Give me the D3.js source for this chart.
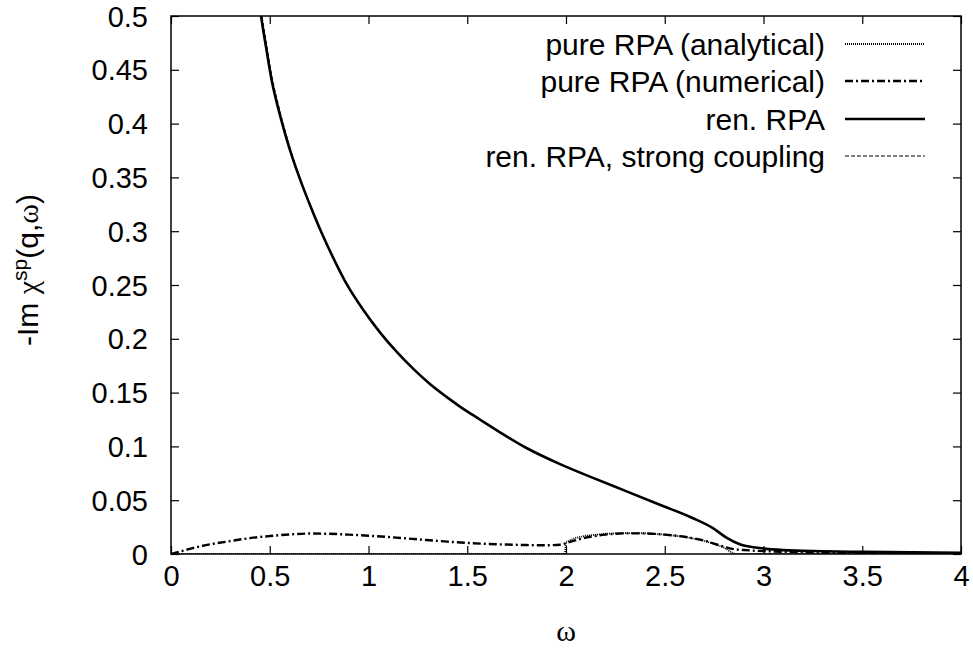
<!DOCTYPE html>
<html>
<head>
<meta charset="utf-8">
<script src="https://cdn.jsdelivr.net/npm/d3@7"></script>
<style>
  body { margin: 0; background: #fff; }
  svg { display: block; }
  text { font-family: "Liberation Sans", Arial, sans-serif; fill: #000; }
</style>
</head>
<body>
<svg id="chart" width="973" height="648"></svg>
<script>
// ---- data ----
const xTicks = [0, 0.5, 1, 1.5, 2, 2.5, 3, 3.5, 4];
const xTickLabels = ["0", "0.5", "1", "1.5", "2", "2.5", "3", "3.5", "4"];
const yTicks = [0, 0.05, 0.1, 0.15, 0.2, 0.25, 0.3, 0.35, 0.4, 0.45, 0.5];
const yTickLabels = ["0", "0.05", "0.1", "0.15", "0.2", "0.25", "0.3", "0.35", "0.4", "0.45", "0.5"];

const seriesNames = ["pure RPA (analytical)", "pure RPA (numerical)", "ren. RPA", "ren. RPA, strong coupling"];

const anaOmega = [0, 1.995, 2.0, 2.05, 2.1, 2.2, 2.3, 2.4, 2.5, 2.6, 2.7, 2.75, 2.8, 2.84, 2.86, 4];
const anaValue = [0, 0, 0.011, 0.015, 0.017, 0.0188, 0.0195, 0.0193, 0.018, 0.016, 0.0122, 0.0095, 0.006, 0.0012, 0, 0];

const numOmega = [0, 0.05, 0.1, 0.2, 0.3, 0.4, 0.5, 0.6, 0.7, 0.8, 0.9, 1.0, 1.2, 1.4, 1.5, 1.6, 1.7, 1.8, 1.9, 1.97, 2.02, 2.1, 2.2, 2.3, 2.4, 2.5, 2.6, 2.7, 2.8, 2.85, 2.9, 3.0, 3.2, 3.5, 4];
const numValue = [0, 0.0025, 0.005, 0.009, 0.012, 0.0148, 0.0167, 0.0182, 0.019, 0.0188, 0.018, 0.017, 0.0144, 0.0115, 0.0103, 0.0094, 0.0088, 0.0083, 0.0081, 0.0086, 0.0112, 0.0152, 0.018, 0.0192, 0.0191, 0.018, 0.016, 0.0124, 0.0068, 0.0045, 0.0037, 0.0027, 0.0017, 0.001, 0.0005];

const renOmega = [0.42, 0.456, 0.484, 0.51, 0.543, 0.577, 0.619, 0.662, 0.72, 0.771, 0.83, 0.889, 0.973, 1.058, 1.142, 1.227, 1.311, 1.395, 1.463, 1.564, 1.632, 1.80, 1.97, 2.14, 2.31, 2.475, 2.64, 2.74, 2.81, 2.88, 2.98, 3.1, 3.3, 3.5, 3.75, 4];
const renValue = [0.555, 0.5, 0.468, 0.44, 0.414, 0.391, 0.366, 0.344, 0.317, 0.295, 0.272, 0.251, 0.227, 0.206, 0.188, 0.172, 0.158, 0.146, 0.137, 0.125, 0.117, 0.0985, 0.0835, 0.0705, 0.058, 0.0458, 0.0335, 0.0245, 0.0155, 0.009, 0.0055, 0.0036, 0.0026, 0.002, 0.0015, 0.001];
const strongValue = [0.56, 0.506, 0.474, 0.445, 0.418, 0.394, 0.368, 0.345, 0.318, 0.295, 0.272, 0.251, 0.227, 0.206, 0.188, 0.172, 0.158, 0.146, 0.137, 0.125, 0.117, 0.0985, 0.0835, 0.0705, 0.058, 0.0458, 0.0335, 0.0243, 0.0153, 0.0088, 0.0054, 0.0036, 0.0026, 0.002, 0.0015, 0.001];

// ---- layout ----
const svg = d3.select("#chart");
const L = 171, R = 961, T = 16, B = 554;
const x = d3.scaleLinear().domain([0, 4]).range([L, R]);
const y = d3.scaleLinear().domain([0, 0.5]).range([B, T]);

svg.append("defs").append("clipPath").attr("id", "clip")
  .append("rect").attr("x", L).attr("y", T).attr("width", R - L).attr("height", B - T);

const fsTick = 29;
const fsLeg = 30;
const tickLen = 8;

// axes (ticks inward, mirrored)
const gx = svg.append("g").attr("transform", `translate(0,${B})`)
  .call(d3.axisBottom(x).tickValues(xTicks).tickFormat((d, i) => xTickLabels[i]).tickSizeInner(-tickLen).tickSizeOuter(0).tickPadding(11));
const gxt = svg.append("g").attr("transform", `translate(0,${T})`)
  .call(d3.axisTop(x).tickValues(xTicks).tickFormat("").tickSizeInner(-tickLen).tickSizeOuter(0));
const gy = svg.append("g").attr("transform", `translate(${L},0)`)
  .call(d3.axisLeft(y).tickValues(yTicks).tickFormat((d, i) => yTickLabels[i]).tickSizeInner(-tickLen).tickSizeOuter(0).tickPadding(23));
const gyr = svg.append("g").attr("transform", `translate(${R},0)`)
  .call(d3.axisRight(y).tickValues(yTicks).tickFormat("").tickSizeInner(-tickLen).tickSizeOuter(0));

[gx, gxt, gy, gyr].forEach(g => {
  g.select(".domain").remove();
  g.selectAll(".tick line").attr("stroke", "#000").attr("stroke-width", 1.2);
  g.selectAll("text").style("font-size", fsTick + "px").style("font-family", '"Liberation Sans", Arial, sans-serif').attr("fill", "#000");
});
gx.selectAll(".tick text").attr("dy", "0.71em");
gy.selectAll(".tick text").attr("dy", "0.35em");

// frame
svg.append("rect").attr("x", L).attr("y", T).attr("width", R - L).attr("height", B - T)
  .attr("fill", "none").attr("stroke", "#000").attr("stroke-width", 1.5);

// lines
const plot = svg.append("g").attr("clip-path", "url(#clip)");
const mk = (xs, ys) => xs.map((w, i) => [w, ys[i]]);

const styles = [
  { data: mk(anaOmega, anaValue), width: 1.8, dash: "1,1", curve: d3.curveLinear },
  { data: mk(numOmega, numValue), width: 2.4, dash: "8,3,2,3", curve: d3.curveMonotoneX },
  { data: mk(renOmega, renValue), width: 2.6, dash: null, curve: d3.curveMonotoneX },
  { data: mk(renOmega, strongValue), width: 1, dash: "4,2", curve: d3.curveMonotoneX }
];

styles.forEach(s => {
  plot.append("path")
    .attr("d", d3.line().x(d => x(d[0])).y(d => y(d[1])).curve(s.curve)(s.data))
    .attr("fill", "none").attr("stroke", "#000")
    .attr("stroke-width", s.width)
    .attr("stroke-dasharray", s.dash);
});

// legend
const legY = [44, 81, 119, 156];
const leg = svg.append("g");
seriesNames.forEach((name, i) => {
  leg.append("text").attr("x", 825).attr("y", legY[i]).attr("dy", "0.35em")
    .attr("text-anchor", "end").style("font-size", fsLeg + "px").text(name);
  leg.append("line").attr("x1", 845).attr("x2", 925).attr("y1", legY[i]).attr("y2", legY[i])
    .attr("stroke", "#000").attr("stroke-width", Math.min(styles[i].width, 2.4))
    .attr("stroke-dasharray", styles[i].dash);
});

// axis labels
svg.append("text").attr("x", x(2)).attr("y", 630).attr("dy", "0.35em")
  .attr("text-anchor", "middle")
  .style("font-family", '"Liberation Serif", "DejaVu Serif", serif').style("font-size", "30px")
  .text("ω");

const yl = svg.append("text").attr("transform", "translate(38,270) rotate(-90)")
  .attr("text-anchor", "middle").style("font-size", fsLeg + "px");
yl.append("tspan").text("-Im ");
yl.append("tspan").style("font-family", '"Liberation Serif", "DejaVu Serif", serif').text("χ");
yl.append("tspan").attr("dy", -11).style("font-size", "21px").text("sp");
yl.append("tspan").attr("dy", 11).text("(q,");
yl.append("tspan").style("font-family", '"Liberation Serif", "DejaVu Serif", serif').text("ω");
yl.append("tspan").text(")");
</script>
</body>
</html>
